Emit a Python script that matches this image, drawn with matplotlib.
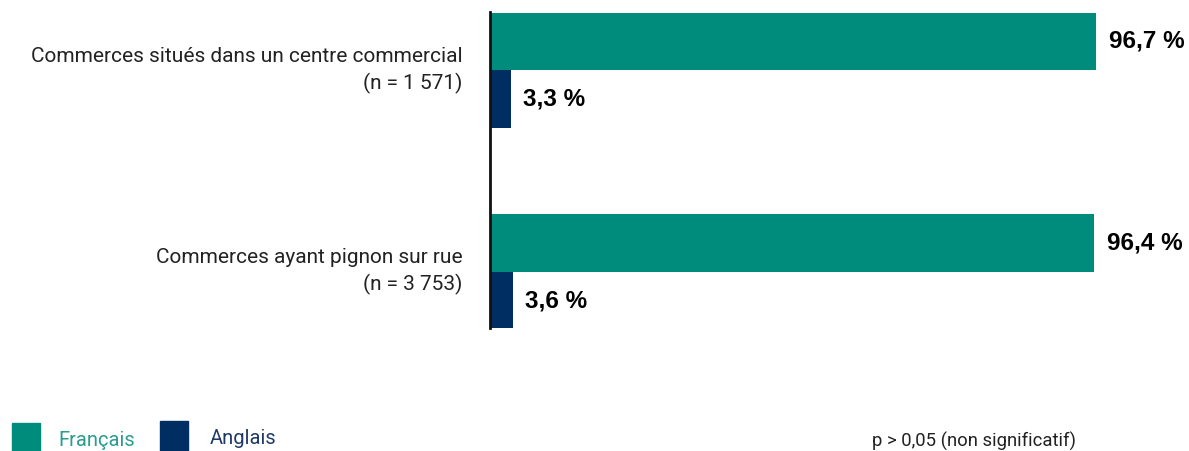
import matplotlib.pyplot as plt
from matplotlib.patches import Rectangle

categories = ['Commerces situés dans un centre commercial\n(n = 1 571)',
              'Commerces ayant pignon sur rue\n(n = 3 753)']
francais = [96.7, 96.4]
anglais = [3.3, 3.6]
series_names = ['Français', 'Anglais']
note = 'p > 0,05 (non significatif)'

teal = '#008C7C'
navy = '#002D62'

plt.rcParams['font.family'] = ['Roboto', 'DejaVu Sans']

fig = plt.figure(figsize=(11.89, 4.51), dpi=100)
ax = fig.add_axes([490 / 1189, 1 - 328 / 451, (1117 - 490) / 1189, (328 - 12) / 451])

h = 0.287
pos = list(range(len(categories)))
b1 = ax.barh([p - h / 2 for p in pos], francais, height=h, color=teal)
b2 = ax.barh([p + h / 2 for p in pos], anglais, height=h, color=navy)

for bars, vals in ((b1, francais), (b2, anglais)):
    for bar, v in zip(bars, vals):
        ax.annotate(f'{v:.1f} %'.replace('.', ','),
                    (bar.get_width(), bar.get_y() + bar.get_height() / 2),
                    xytext=(9, 0), textcoords='offset points',
                    ha='left', va='center', fontsize=17.5, fontweight='bold',
                    family=['Liberation Sans Narrow', 'Liberation Sans'])

ax.set_xlim(0, 100)
ax.set_ylim(1.28, -0.29)
ax.set_yticks(pos)
ax.set_yticklabels(categories, fontsize=15, color='#222222', linespacing=1.45,
                   ha='right', ma='right', va='center')
ax.tick_params(axis='y', length=0, pad=20)
ax.set_xticks([])
for s in ['top', 'right', 'bottom']:
    ax.spines[s].set_visible(False)
ax.spines['left'].set_linewidth(2)
ax.spines['left'].set_color('#111111')

# legend
fig.add_artist(Rectangle((12 / 1189, 0), 28 / 1189, 28 / 451,
                         transform=fig.transFigure, color=teal))
fig.text(58 / 1189, 11 / 451, series_names[0], fontsize=14.5, color='#2A9D8F',
         va='center')
fig.add_artist(Rectangle((160 / 1189, 0), 28 / 1189, 30 / 451,
                         transform=fig.transFigure, color=navy))
fig.text(210 / 1189, 12 / 451, series_names[1], fontsize=14.5, color='#1F3A68',
         va='center')
fig.text(872 / 1189, 10 / 451, note, fontsize=13.3, color='#222222', va='center')

fig.savefig('out.png', dpi=100)
